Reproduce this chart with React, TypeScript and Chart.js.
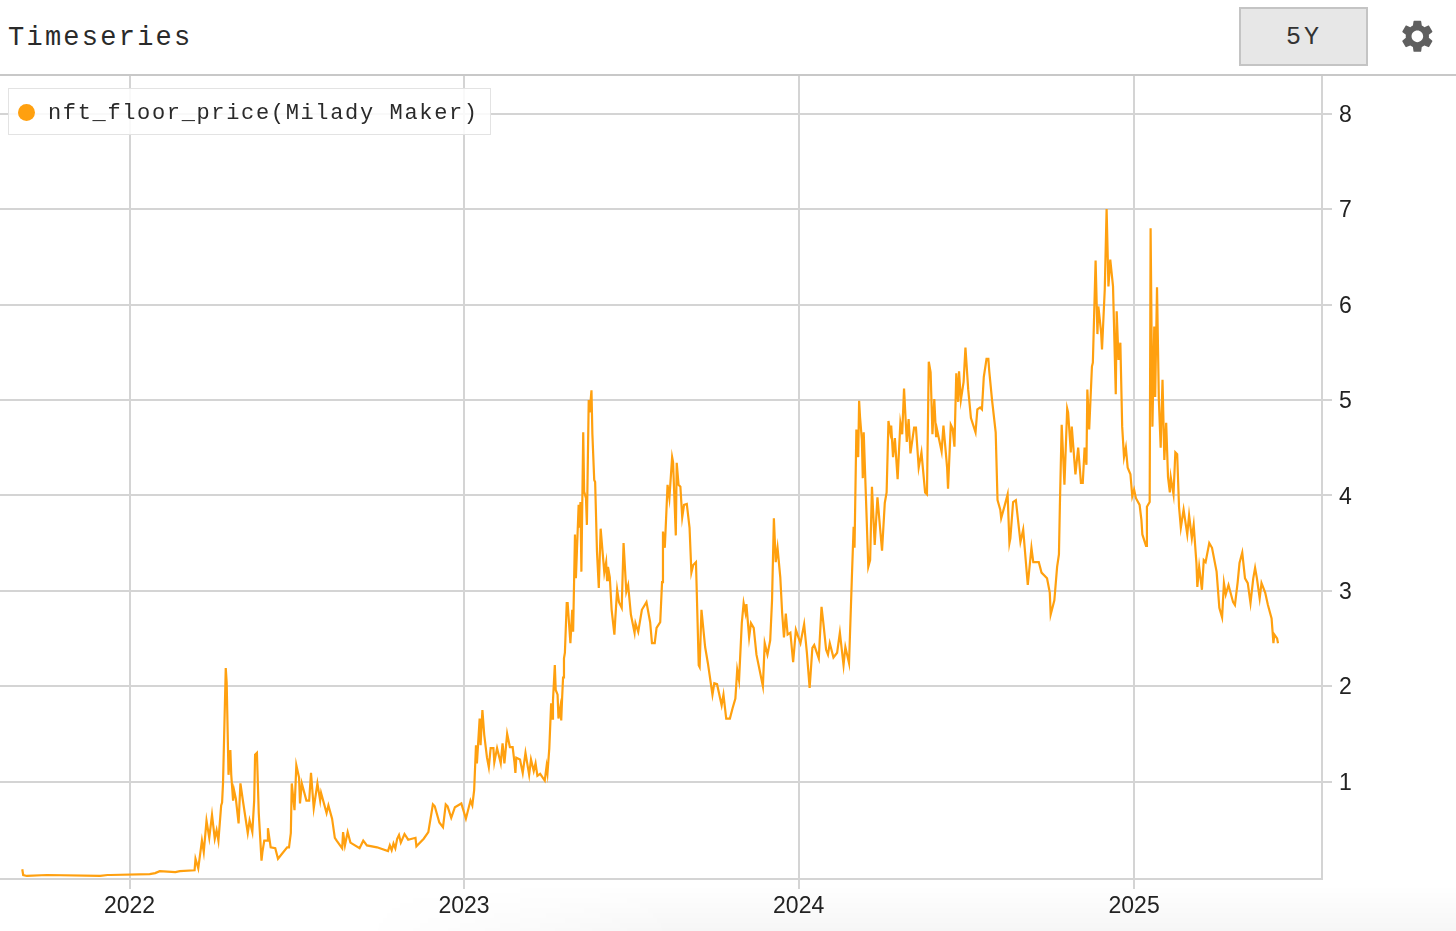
import React, { useEffect, useRef } from "react";
import { Chart, registerables } from "chart.js";

Chart.register(...registerables);

const seriesName = "nft_floor_price(Milady Maker)";
const titleText = "Timeseries";
const rangeText = "5Y";

// days since 2022-01-01
const days = [
  -117,-116,-112,-90,-32,-24,-21,22,28,33,50,55,71,72,75,79,81,84,87,90,93,95,97,100,101,102,105,106,108,110,111,113,114,116,119,121,124,129,131,134,136,137,139,141,144,145,147,150,151,154,159,162,172,174,176,177,180,182,185,186,188,193,196,198,201,205,208,209,215,217,221,224,226,232,233,235,238,241,251,255,259,270,282,284,286,288,290,292,294,296,300,304,312,313,321,326,331,333,338,342,345,347,351,355,362,367,372,374,376,378,379,382,383,385,387,390,392,394,397,398,401,405,407,409,412,415,418,420,421,422,426,429,432,436,438,441,443,445,448,453,455,456,458,460,461,462,464,465,467,468,470,471,472,473,474,475,477,478,481,483,484,486,487,490,491,492,493,495,496,498,499,501,502,504,505,507,508,510,512,514,518,520,521,522,524,526,529,530,532,534,537,539,542,544,547,551,552,555,559,564,568,570,573,575,579,581,582,584,587,589,592,593,596,597,599,601,603,605,608,611,613,615,618,621,622,624,628,631,636,638,641,646,648,651,655,658,661,663,665,668,670,672,673,676,678,681,684,691,693,696,699,701,703,705,707,710,712,714,716,718,721,724,727,732,736,739,742,745,747,752,753,755,757,760,762,764,768,772,775,779,781,785,788,790,791,793,795,796,797,799,800,801,804,806,808,810,813,816,819,821,824,826,828,830,831,833,835,838,841,843,845,848,850,852,856,858,861,864,868,870,872,874,876,878,880,881,886,888,892,893,896,898,900,902,904,905,907,910,912,915,918,923,925,928,930,932,935,937,938,941,945,947,950,951,955,958,960,961,964,967,972,975,980,984,986,992,995,1001,1004,1005,1009,1012,1014,1015,1017,1020,1023,1024,1027,1028,1032,1035,1038,1040,1042,1044,1045,1047,1050,1051,1054,1056,1057,1060,1061,1064,1066,1068,1070,1073,1076,1077,1079,1081,1083,1085,1087,1089,1092,1094,1096,1098,1102,1104,1105,1109,1110,1113,1114,1116,1118,1119,1121,1123,1125,1127,1129,1131,1133,1135,1136,1139,1141,1143,1145,1147,1150,1154,1156,1159,1161,1164,1165,1167,1170,1172,1174,1178,1181,1185,1186,1189,1192,1194,1196,1199,1204,1206,1209,1211,1214,1217,1220,1223,1226,1228,1230,1233,1235,1239,1242,1246,1248,1249,1252,1253,
];
const prices = [
  0.08,0.02,0.01,0.02,0.01,0.02,0.02,0.03,0.04,0.06,0.05,0.06,0.07,0.19,0.09,0.38,0.26,0.59,0.41,0.65,0.40,0.49,0.38,0.75,0.78,0.98,2.19,2.04,1.07,1.33,1.07,0.80,0.91,0.82,0.56,0.98,0.78,0.46,0.59,0.47,0.80,1.28,1.30,0.67,0.17,0.26,0.38,0.38,0.51,0.31,0.30,0.19,0.31,0.31,0.46,0.98,0.70,1.17,1.04,0.77,0.98,0.80,0.80,1.09,0.72,0.98,0.80,0.88,0.67,0.75,0.61,0.41,0.38,0.30,0.47,0.33,0.47,0.36,0.30,0.38,0.33,0.31,0.27,0.33,0.28,0.35,0.30,0.40,0.44,0.36,0.45,0.39,0.41,0.32,0.40,0.47,0.76,0.74,0.57,0.52,0.76,0.74,0.62,0.73,0.77,0.61,0.80,0.75,0.91,1.38,1.19,1.66,1.38,1.75,1.49,1.25,1.15,1.35,1.35,1.20,1.35,1.19,1.40,1.19,1.50,1.36,1.36,1.20,1.09,1.25,1.23,1.09,1.30,1.07,1.23,1.11,1.19,1.06,1.08,1.01,1.16,1.09,1.35,1.82,1.66,1.85,2.22,1.96,1.91,1.66,1.78,1.64,1.88,2.09,2.29,2.35,2.87,2.87,2.45,2.80,2.57,3.59,3.13,3.90,3.66,3.93,3.20,4.66,4.04,3.97,3.69,5.00,4.87,5.10,4.64,4.16,4.14,3.41,3.03,3.65,3.19,3.30,3.11,3.25,3.14,2.80,2.54,2.71,3.01,2.88,2.82,3.50,2.99,3.06,2.75,2.56,2.66,2.57,2.80,2.88,2.67,2.45,2.45,2.61,2.67,3.09,3.62,3.45,4.11,3.97,4.40,4.35,3.58,4.34,4.11,4.09,3.77,3.90,3.91,3.66,3.19,3.27,3.30,2.22,2.20,2.80,2.41,2.24,1.91,2.03,2.02,1.80,1.91,1.66,1.66,1.77,1.87,2.17,2.06,2.66,2.87,2.77,2.86,2.51,2.66,2.61,2.33,2.00,2.45,2.33,2.48,2.90,3.76,3.30,3.45,3.14,2.77,2.51,2.76,2.54,2.56,2.25,2.59,2.45,2.65,2.35,1.98,2.40,2.43,2.29,2.48,2.83,2.66,2.38,2.33,2.45,2.30,2.35,2.56,2.22,2.41,2.24,3.11,3.67,3.45,4.69,4.40,4.99,4.82,4.58,4.18,4.66,3.82,3.25,3.32,4.09,3.48,3.98,3.64,3.42,3.92,4.03,4.78,4.66,4.73,4.40,4.60,4.17,4.76,4.64,5.12,4.56,4.80,4.44,4.71,4.71,4.29,4.45,4.03,4.01,5.40,5.29,4.64,5.01,4.61,4.69,4.46,4.73,4.29,4.07,4.74,4.70,4.51,5.28,4.98,5.30,5.00,5.19,5.55,5.11,4.81,4.66,4.90,4.92,4.90,5.24,5.43,5.43,5.30,5.00,4.66,3.95,3.85,3.76,3.90,4.01,3.50,3.55,3.93,3.95,3.51,3.64,3.06,3.45,3.30,3.30,3.19,3.13,2.98,2.75,2.90,3.25,3.38,3.88,4.74,4.11,4.91,4.87,4.45,4.72,4.22,4.50,4.13,4.13,4.50,4.32,5.11,4.69,5.35,5.39,6.46,5.69,5.98,5.71,5.53,6.16,7.00,6.19,6.47,6.19,5.06,5.93,5.42,5.60,4.72,4.40,4.50,4.29,4.22,3.99,4.06,3.97,3.90,3.74,3.59,3.47,3.88,3.93,6.80,4.72,5.77,5.03,6.18,5.00,4.50,5.21,4.37,4.76,4.19,4.03,4.19,4.01,4.45,4.43,3.88,3.66,3.85,3.59,3.79,3.55,3.69,3.29,3.04,3.25,3.01,3.32,3.30,3.50,3.45,3.25,3.20,2.82,2.72,3.08,2.96,3.06,2.88,2.85,3.09,3.29,3.40,3.13,3.08,2.87,3.13,3.24,3.13,2.92,3.08,2.98,2.85,2.71,2.45,2.54,2.50,2.45,
];

const yearTicks = [0, 365, 730, 1096];
const yearLabels = ["2022", "2023", "2024", "2025"];
const priceTicks = [1, 2, 3, 4, 5, 6, 7, 8];

const mono = '"Liberation Mono", monospace';
const sans = '"Liberation Sans", Arial, sans-serif';
const gridColor = "#d4d4d4";
const lineColor = "#ffa00f";

export default function App() {
  const canvasRef = useRef<HTMLCanvasElement | null>(null);

  useEffect(() => {
    document.body.style.margin = "0";
    const chart = new Chart(canvasRef.current as HTMLCanvasElement, {
      type: "line",
      data: {
        labels: days,
        datasets: [
          {
            label: seriesName,
            data: days.map((d, i) => ({ x: d, y: prices[i] })),
            borderColor: lineColor,
            backgroundColor: lineColor,
            borderWidth: 2.2,
            pointRadius: 0,
            tension: 0,
            fill: false,
          },
        ],
      },
      options: {
        animation: false,
        responsive: false,
        parsing: false,
        layout: { padding: { top: 75, left: 0, right: 0, bottom: 0 } },
        plugins: { legend: { display: false }, tooltip: { enabled: false }, title: { display: false } },
        scales: {
          x: {
            type: "linear",
            min: -141.3,
            max: 1301,
            afterBuildTicks: (axis: any) => {
              axis.ticks = yearTicks.map((value) => ({ value }));
            },
            afterFit: (axis: any) => {
              axis.height = 52;
            },
            grid: { color: gridColor, lineWidth: 2, tickLength: 10, tickColor: gridColor },
            border: { color: gridColor, width: 2 },
            ticks: {
              autoSkip: false,
              maxRotation: 0,
              padding: 4,
              color: "#222222",
              font: { family: sans, size: 23 },
              callback: (v: any) => yearLabels[yearTicks.indexOf(Number(v))] ?? "",
            },
          },
          y: {
            type: "linear",
            position: "right",
            min: -0.022,
            max: 8.406,
            afterBuildTicks: (axis: any) => {
              axis.ticks = priceTicks.map((value) => ({ value }));
            },
            afterFit: (axis: any) => {
              axis.width = 134;
            },
            grid: { color: gridColor, lineWidth: 2, tickLength: 10, tickColor: gridColor },
            border: { color: gridColor, width: 2 },
            ticks: {
              autoSkip: false,
              padding: 7,
              labelOffset: 2,
              color: "#222222",
              font: { family: sans, size: 23 },
              callback: (v: any) => String(v),
            },
          },
        },
      },
    } as any);
    return () => chart.destroy();
  }, []);

  return (
    <div style={{ position: "relative", width: 1456, height: 931, background: "#fff", overflow: "hidden" }}>
      <div
        style={{
          position: "absolute", left: 360, top: 885, width: 1096, height: 46,
          background: "linear-gradient(to bottom, rgba(0,0,0,0), rgba(0,0,0,0.035))",
          WebkitMaskImage: "linear-gradient(to right, transparent, black 320px)",
          maskImage: "linear-gradient(to right, transparent, black 320px)",
        }}
      />
      <canvas ref={canvasRef} width={1456} height={931} style={{ position: "absolute", left: 0, top: 0, display: "block" }} />
      <div
        style={{
          position: "absolute", left: 0, top: 0, width: 1456, height: 76, boxSizing: "border-box",
          borderBottom: "2px solid #c8c8c8", background: "#fff",
        }}
      />
      <div
        style={{
          position: "absolute", left: 8, top: 22, fontFamily: mono, fontSize: 27, lineHeight: "33px",
          letterSpacing: 2.25, color: "#2a2a2a",
        }}
      >
        {titleText}
      </div>
      <div
        style={{
          position: "absolute", left: 1239, top: 7, width: 129, height: 59, boxSizing: "border-box",
          border: "2px solid #c4c4c4", background: "#e7e7e7", color: "#333", fontFamily: mono, fontSize: 25,
          display: "flex", alignItems: "center", justifyContent: "center", letterSpacing: 3, paddingTop: 2, paddingLeft: 1,
        }}
      >
        {rangeText}
      </div>
      <svg
        style={{ position: "absolute", left: 1398, top: 17 }}
        width={38.7}
        height={38.7}
        viewBox="0 0 24 24"
      >
        <path
          fill="#5f5f5f"
          d="M19.14 12.94c.04-.3.06-.61.06-.94 0-.32-.02-.64-.07-.94l2.03-1.58c.18-.14.23-.41.12-.61l-1.92-3.32c-.12-.22-.37-.29-.59-.22l-2.39.96c-.5-.38-1.03-.7-1.62-.94l-.36-2.54c-.04-.24-.24-.41-.48-.41h-3.84c-.24 0-.43.17-.47.41l-.36 2.54c-.59.24-1.13.57-1.62.94l-2.39-.96c-.22-.08-.47 0-.59.22L2.74 8.87c-.12.21-.08.47.12.61l2.03 1.58c-.05.3-.09.63-.09.94s.02.64.07.94l-2.03 1.58c-.18.14-.23.41-.12.61l1.92 3.32c.12.22.37.29.59.22l2.39-.96c.5.38 1.03.7 1.62.94l.36 2.54c.05.24.24.41.48.41h3.84c.24 0 .44-.17.47-.41l.36-2.54c.59-.24 1.13-.56 1.62-.94l2.39.96c.22.08.47 0 .59-.22l1.92-3.32c.12-.22.07-.47-.12-.61l-2.01-1.58zM12 15.6c-1.98 0-3.6-1.62-3.6-3.6s1.62-3.6 3.6-3.6 3.6 1.62 3.6 3.6-1.62 3.6-3.6 3.6z"
        />
      </svg>
      <div
        style={{
          position: "absolute", left: 8, top: 88, width: 483, height: 47, boxSizing: "border-box",
          border: "1px solid #e3e3e3", background: "rgba(255,255,255,0.85)",
        }}
      >
        <span
          style={{
            position: "absolute", left: 9, top: 15, width: 17, height: 17, borderRadius: "50%", background: lineColor,
          }}
        />
        <span
          style={{
            position: "absolute", left: 39, top: 11, fontFamily: mono, fontSize: 22, lineHeight: "28px",
            letterSpacing: 1.65, color: "#2a2a2a", whiteSpace: "nowrap",
          }}
        >
          {seriesName}
        </span>
      </div>
    </div>
  );
}
